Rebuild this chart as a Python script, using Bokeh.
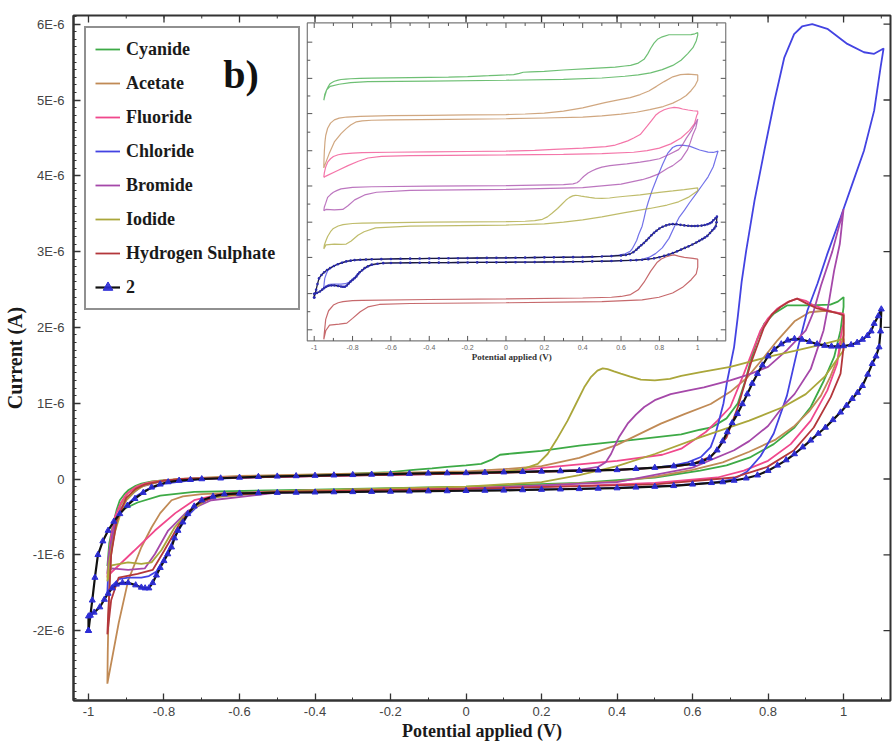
from bokeh.plotting import figure
from bokeh.models import Range1d, FixedTicker, CustomJSTickFormatter
from bokeh.core.properties import value
from bokeh.embed import file_html
from bokeh.resources import INLINE

# ---------------- data : potential (V) and current (units of 1E-6 A) ----------------
cyanide_v = [-0.95, -0.945, -0.935, -0.925, -0.917, -0.905, -0.895, -0.875, -0.86, -0.835,
             -0.81, -0.76, -0.7, -0.6, -0.5, -0.4, -0.3, -0.2, -0.14, -0.09,
             -0.05, 0.0, 0.04, 0.07, 0.09, 0.13, 0.2, 0.3, 0.43, 0.57,
             0.62, 0.65, 0.69, 0.72, 0.74, 0.755, 0.772, 0.79, 0.815, 0.85,
             0.91, 0.965, 0.985, 1.0,
             1.0, 0.992, 0.975, 0.948, 0.913, 0.87, 0.815, 0.754, 0.69, 0.62,
             0.5, 0.3, 0.0, -0.4, -0.72, -0.81, -0.87, -0.917, -0.935, -0.945, -0.95]
cyanide_i = [-1.15, -0.95, -0.6, -0.4, -0.28, -0.2, -0.15, -0.09, -0.06, -0.035,
             -0.02, -0.005, 0.01, 0.025, 0.04, 0.055, 0.07, 0.09, 0.12, 0.14,
             0.16, 0.18, 0.2, 0.26, 0.32, 0.34, 0.37, 0.44, 0.51, 0.59,
             0.65, 0.68, 0.8, 1.0, 1.3, 1.58, 1.85, 2.05, 2.18, 2.29,
             2.29, 2.3, 2.34, 2.4,
             2.27, 1.96, 1.61, 1.30, 0.95, 0.68, 0.46, 0.29, 0.18, 0.11,
             0.02, -0.05, -0.1, -0.14, -0.17, -0.22, -0.31, -0.42, -0.6, -0.85, -1.15]

acetate_v = [-0.95, -0.949, -0.947, -0.944, -0.94, -0.93, -0.915, -0.895, -0.87, -0.83,
             -0.76, -0.6, -0.4, -0.2, 0.0, 0.1, 0.2, 0.3, 0.4, 0.516,
             0.58, 0.648, 0.7, 0.745, 0.785, 0.825, 0.87, 0.91, 0.95, 1.0,
             1.0, 0.985, 0.965, 0.94, 0.91, 0.87, 0.82, 0.75, 0.68, 0.6,
             0.5, 0.4, 0.2, 0.0, -0.3, -0.6, -0.7, -0.75, -0.78, -0.81,
             -0.833, -0.86, -0.895, -0.92, -0.95]
acetate_i = [-2.7, -2.3, -1.8, -1.35, -1.0, -0.62, -0.35, -0.18, -0.09, -0.03,
             0.0, 0.04, 0.06, 0.08, 0.1, 0.13, 0.17, 0.28, 0.45, 0.73,
             0.86, 0.99, 1.15, 1.34, 1.58, 1.83, 2.08, 2.2, 2.22, 2.18,
             1.9, 1.6, 1.35, 1.1, 0.9, 0.7, 0.52, 0.36, 0.22, 0.12,
             0.03, -0.03, -0.08, -0.12, -0.15, -0.18, -0.2, -0.23, -0.28, -0.45,
             -0.64, -0.9, -1.34, -1.9, -2.7]

fluoride_v = [-0.95, -0.947, -0.94, -0.93, -0.915, -0.9, -0.875, -0.85, -0.8, -0.75,
              -0.6, -0.4, -0.2, 0.0, 0.15, 0.25, 0.4, 0.52, 0.57, 0.6,
              0.635, 0.666, 0.7, 0.736, 0.76, 0.78, 0.8, 0.825, 0.85, 0.877,
              0.9, 0.921, 0.95, 0.975, 1.0,
              1.0, 0.995, 0.983, 0.957, 0.913, 0.86, 0.8, 0.736, 0.666, 0.5,
              0.3, 0.0, -0.3, -0.5, -0.65, -0.72, -0.77, -0.824, -0.88, -0.939, -0.95]
fluoride_i = [-1.3, -1.05, -0.75, -0.5, -0.32, -0.2, -0.11, -0.06, -0.02, 0.0,
              0.02, 0.04, 0.06, 0.08, 0.12, 0.17, 0.24, 0.32, 0.4, 0.5,
              0.62, 0.77, 0.95, 1.39, 1.7, 1.96, 2.12, 2.25, 2.33, 2.38,
              2.35, 2.29, 2.24, 2.2, 2.18,
              2.05, 1.96, 1.52, 1.17, 0.77, 0.46, 0.24, 0.11, 0.02, -0.05,
              -0.09, -0.12, -0.14, -0.16, -0.2, -0.28, -0.45, -0.68, -0.95, -1.23, -1.3]

chloride_v = [-0.95, -0.948, -0.945, -0.938, -0.93, -0.915, -0.9, -0.875, -0.85, -0.8,
              -0.7, -0.5, -0.3, 0.0, 0.2, 0.4, 0.5, 0.55, 0.587, 0.622,
              0.648, 0.66, 0.67, 0.682, 0.692, 0.71, 0.72, 0.73, 0.742, 0.764,
              0.79, 0.817, 0.843, 0.869, 0.89, 0.917, 0.957, 1.01, 1.054, 1.081,
              1.106,
              1.098, 1.081, 1.054, 1.023, 0.992, 0.957, 0.931, 0.904, 0.88, 0.85,
              0.815, 0.78, 0.745, 0.71, 0.65, 0.5, 0.3, 0.0, -0.3, -0.5,
              -0.65, -0.7, -0.74, -0.77, -0.8, -0.82, -0.84, -0.86, -0.895, -0.92,
              -0.94, -0.95]
chloride_i = [-1.5, -1.25, -1.0, -0.8, -0.6, -0.45, -0.35, -0.23, -0.15, -0.06,
              0.0, 0.03, 0.05, 0.08, 0.1, 0.12, 0.15, 0.18, 0.22, 0.29,
              0.42, 0.58, 0.77, 1.0, 1.3, 1.74, 2.15, 2.6, 3.01, 3.67,
              4.33, 4.99, 5.56, 5.87, 5.97, 6.0, 5.94, 5.74, 5.63, 5.61,
              5.68,
              5.43, 4.86, 4.33, 3.89, 3.45, 2.97, 2.58, 2.22, 1.75, 1.1,
              0.6, 0.3, 0.1, 0.0, -0.05, -0.1, -0.13, -0.15, -0.17, -0.18,
              -0.22, -0.3, -0.5, -0.75, -1.05, -1.22, -1.28, -1.3, -1.3, -1.32,
              -1.42, -1.5]

bromide_v = [-0.95, -0.947, -0.94, -0.93, -0.915, -0.9, -0.88, -0.86, -0.8, -0.7,
             -0.4, 0.0, 0.3, 0.35, 0.37, 0.384, 0.395, 0.405, 0.428, 0.45,
             0.472, 0.5, 0.542, 0.59, 0.63, 0.7, 0.75, 0.8, 0.85, 0.9,
             0.92, 0.94, 0.97, 1.0,
             0.99, 0.975, 0.96, 0.947, 0.913, 0.87, 0.843, 0.8, 0.75, 0.71,
             0.6, 0.4, 0.0, -0.5, -0.675, -0.737, -0.789, -0.824, -0.851, -0.895,
             -0.939, -0.95]
bromide_i = [-1.25, -1.05, -0.85, -0.55, -0.4, -0.28, -0.18, -0.1, -0.02, 0.01,
             0.04, 0.07, 0.12, 0.16, 0.22, 0.33, 0.45, 0.55, 0.73, 0.85,
             0.95, 1.04, 1.12, 1.17, 1.21, 1.3, 1.38, 1.48, 1.7, 1.96,
             2.2, 2.55, 3.0, 3.56,
             3.1, 2.75, 2.3, 1.96, 1.45, 1.12, 0.98, 0.7, 0.5, 0.38,
             0.15, -0.04, -0.13, -0.18, -0.28, -0.42, -0.68, -0.99, -1.18, -1.2,
             -1.18, -1.25]

iodide_v = [-0.95, -0.947, -0.94, -0.93, -0.915, -0.9, -0.875, -0.85, -0.8, -0.75,
            -0.4, 0.0, 0.1, 0.15, 0.19, 0.216, 0.24, 0.269, 0.29, 0.313,
            0.33, 0.348, 0.362, 0.375, 0.392, 0.41, 0.435, 0.463, 0.5, 0.54,
            0.57, 0.622, 0.7, 0.8, 0.87, 0.93, 1.0,
            1.0, 0.95, 0.9, 0.84, 0.75, 0.62, 0.5, 0.4, 0.3, 0.2,
            0.0, -0.5, -0.68, -0.74, -0.772, -0.807, -0.833, -0.86, -0.895, -0.939, -0.95]
iodide_i = [-1.35, -1.15, -0.95, -0.7, -0.45, -0.28, -0.15, -0.08, -0.02, 0.0,
            0.05, 0.08, 0.1, 0.13, 0.2, 0.33, 0.52, 0.77, 0.98, 1.21,
            1.34, 1.43, 1.46, 1.45, 1.42, 1.39, 1.35, 1.31, 1.3, 1.32,
            1.36, 1.41, 1.48, 1.61, 1.69, 1.76, 1.85,
            1.7, 1.35, 1.12, 0.95, 0.77, 0.55, 0.33, 0.17, 0.05, -0.04,
            -0.1, -0.16, -0.25, -0.45, -0.64, -0.94, -1.1, -1.12, -1.1, -1.14, -1.35]

hsulphate_v = [-0.95, -0.948, -0.945, -0.94, -0.925, -0.9, -0.875, -0.85, -0.8, -0.75,
               -0.4, 0.0, 0.4, 0.55, 0.6, 0.65, 0.69, 0.72, 0.754, 0.789,
               0.81, 0.833, 0.855, 0.877, 0.9, 0.93, 0.975, 1.0,
               1.0, 1.0, 0.992, 0.966, 0.921, 0.869, 0.798, 0.71, 0.5, 0.0,
               -0.5, -0.66, -0.72, -0.76, -0.8, -0.83, -0.87, -0.92, -0.94, -0.95]
hsulphate_i = [-2.05, -1.8, -1.5, -1.0, -0.55, -0.25, -0.13, -0.07, -0.02, 0.0,
               0.04, 0.07, 0.12, 0.16, 0.2, 0.3, 0.55, 0.95, 1.52, 2.0,
               2.17, 2.27, 2.34, 2.38, 2.32, 2.25, 2.2, 2.16,
               2.0, 1.74, 1.39, 1.08, 0.68, 0.38, 0.16, 0.02, -0.07, -0.13,
               -0.17, -0.22, -0.35, -0.6, -0.95, -1.2, -1.25, -1.3, -1.6, -2.05]

compound2_v = [-1.0, -0.995, -0.99, -0.983, -0.975, -0.962, -0.948, -0.933, -0.917, -0.897,
               -0.877, -0.855, -0.833, -0.81, -0.789, -0.76, -0.73, -0.7, -0.65, -0.6,
               -0.55, -0.5, -0.45, -0.4, -0.35, -0.3, -0.25, -0.2, -0.15, -0.1,
               -0.05, 0.0, 0.05, 0.1, 0.15, 0.2, 0.25, 0.3, 0.35, 0.4,
               0.45, 0.5, 0.55, 0.6, 0.625, 0.645, 0.665, 0.68, 0.692, 0.705,
               0.719, 0.732, 0.745, 0.758, 0.772, 0.785, 0.8, 0.817, 0.835, 0.852,
               0.87, 0.89, 0.91, 0.93, 0.95, 0.968, 0.985, 1.0, 1.02, 1.036,
               1.05, 1.063, 1.073, 1.081, 1.092, 1.1,
               1.098, 1.094, 1.086, 1.076, 1.064, 1.05, 1.037, 1.023, 1.008, 0.992,
               0.972, 0.952, 0.933, 0.913, 0.892, 0.87, 0.848, 0.825, 0.8, 0.772,
               0.742, 0.71, 0.68, 0.65, 0.6, 0.55, 0.5, 0.45, 0.4, 0.35,
               0.3, 0.25, 0.2, 0.15, 0.1, 0.05, 0.0, -0.05, -0.1, -0.15,
               -0.2, -0.25, -0.3, -0.35, -0.4, -0.45, -0.5, -0.55, -0.6, -0.64,
               -0.67, -0.7, -0.72, -0.737, -0.75, -0.763, -0.772, -0.78, -0.79, -0.8,
               -0.81, -0.82, -0.83, -0.84, -0.85, -0.86, -0.875, -0.895, -0.91, -0.926,
               -0.937, -0.948, -0.958, -0.97, -0.985, -1.0, -1.0]
compound2_i = [-2.0, -1.8, -1.6, -1.3, -1.0, -0.82, -0.68, -0.56, -0.46, -0.35,
               -0.26, -0.18, -0.11, -0.07, -0.04, -0.02, -0.01, 0.0, 0.01, 0.02,
               0.03, 0.035, 0.04, 0.045, 0.05, 0.055, 0.06, 0.065, 0.07, 0.075,
               0.078, 0.08, 0.085, 0.09, 0.095, 0.1, 0.105, 0.11, 0.115, 0.12,
               0.135, 0.15, 0.17, 0.2, 0.23, 0.28, 0.38, 0.5, 0.62, 0.74,
               0.86, 0.99, 1.12, 1.26, 1.39, 1.5, 1.62, 1.71, 1.78, 1.83,
               1.85, 1.84, 1.81, 1.78, 1.76, 1.75, 1.75, 1.755, 1.77, 1.8,
               1.84, 1.89, 1.95, 2.05, 2.15, 2.24,
               1.95, 1.74, 1.62, 1.52, 1.38, 1.23, 1.14, 1.06, 0.97, 0.88,
               0.78, 0.68, 0.6, 0.51, 0.42, 0.33, 0.25, 0.18, 0.11, 0.05,
               0.01, -0.02, -0.04, -0.05, -0.07, -0.09, -0.1, -0.11, -0.12, -0.125,
               -0.13, -0.135, -0.14, -0.145, -0.15, -0.152, -0.155, -0.158, -0.16, -0.162,
               -0.165, -0.167, -0.17, -0.172, -0.175, -0.178, -0.18, -0.185, -0.19, -0.2,
               -0.23, -0.28, -0.36, -0.46, -0.57, -0.68, -0.78, -0.9, -0.99, -1.08,
               -1.17, -1.27, -1.37, -1.44, -1.44, -1.43, -1.4, -1.37, -1.37, -1.39,
               -1.44, -1.51, -1.59, -1.69, -1.76, -1.81, -2.0]

series_names = ["Cyanide", "Acetate", "Fluoride", "Chloride", "Bromide", "Iodide",
                "Hydrogen Sulphate", "2"]
series_v = [cyanide_v, acetate_v, fluoride_v, chloride_v, bromide_v, iodide_v,
            hsulphate_v, compound2_v]
series_i = [cyanide_i, acetate_i, fluoride_i, chloride_i, bromide_i, iodide_i,
            hsulphate_i, compound2_i]
# vertical stacking of the curves in the inset (same units)
inset_offsets = [10.3, 8.3, 6.4, 0.8, 4.6, 2.7, -1.35, 0.8]

x_major = [-1.0, -0.8, -0.6, -0.4, -0.2, 0.0, 0.2, 0.4, 0.6, 0.8, 1.0]
x_minor = [round(-1.0 + 0.1 * k, 1) for k in range(22)]
y_major = [-2, -1, 0, 1, 2, 3, 4, 5, 6]
y_minor = [round(-2.9 + 0.1 * k, 1) for k in range(91)]
inset_x_minor = [round(-0.9 + 0.2 * k, 1) for k in range(11)]
inset_y_major = [12.2, 10.3, 8.45, 6.5, 4.65, 2.75, 0.9, -1.0, -2.9]
inset_x_labels = ["-1", "-0.8", "-0.6", "-0.4", "-0.2", "0", "0.2", "0.4", "0.6", "0.8", "1"]

colors = ["#3daa46", "#c08a55", "#f0488c", "#4343e2", "#a548a9", "#aaa63a", "#b3373b", "#111111"]
marker_color = "#2b2bd6"

SERIF = value("Liberation Serif")
SANS = "Liberation Sans"

# ---------------- figure ----------------
X0, X1 = -1.0397, 1.1243
Y0, Y1 = -2.922, 6.115
p = figure(width=892, height=747, x_range=Range1d(X0, X1), y_range=Range1d(Y0, Y1),
           output_backend="svg", toolbar_location=None,
           min_border_left=72, min_border_right=2, min_border_top=15, min_border_bottom=47)
p.extra_x_ranges = {"ix": Range1d(-2.2552, 2.0052)}
p.extra_y_ranges = {"iy": Range1d(-22.36, 13.60)}
p.xgrid.visible = False
p.ygrid.visible = False
p.outline_line_color = "#333333"
p.outline_line_width = 2
p.background_fill_color = "white"
p.border_fill_color = "white"

axis_col = "#333333"
xfmt = CustomJSTickFormatter(code="""
var s = tick.toFixed(1);
if (s.slice(-2) == '.0') { s = s.slice(0, -2); }
if (s == '-0') { s = '0'; }
return s;""")
yfmt = CustomJSTickFormatter(code="""
var n = Math.round(tick);
return n == 0 ? '0' : n + 'E-6';""")


def style_axis(ax):
    ax.axis_line_width = 2
    ax.axis_line_color = axis_col
    ax.major_tick_line_color = axis_col
    ax.minor_tick_line_color = axis_col
    ax.major_tick_line_width = 1.3
    ax.major_tick_in = 7
    ax.major_tick_out = 0
    ax.minor_tick_in = 3
    ax.minor_tick_out = 0
    ax.major_label_text_font = SANS
    ax.major_label_text_font_size = "13px"
    ax.major_label_text_color = "#444444"


xa = p.xaxis[0]
xa.ticker = FixedTicker(ticks=x_major, minor_ticks=x_minor)
xa.formatter = xfmt
style_axis(xa)
xa.major_label_standoff = 6
xa.axis_label = "Potential applied (V)"
xa.axis_label_text_font = "Liberation Serif"
xa.axis_label_text_font_style = "bold"
xa.axis_label_text_font_size = "18px"
xa.axis_label_text_color = "#1a1a1a"
xa.axis_label_standoff = 2

ya = p.yaxis[0]
ya.ticker = FixedTicker(ticks=y_major, minor_ticks=y_minor)
ya.formatter = yfmt
style_axis(ya)
ya.major_label_standoff = 9
ya.axis_label = "Current (A)"
ya.axis_label_text_font = "Liberation Serif"
ya.axis_label_text_font_style = "bold"
ya.axis_label_text_font_size = "20px"
ya.axis_label_text_color = "#1a1a1a"
ya.axis_label_standoff = 4

# tick marks on the top and right edges of the frame (inward)
tk_major_y = 7 / 75.8   # 7 px in current units
tk_minor_y = 3 / 75.8
tk_major_x = 7 / 378.0  # 7 px in volts
p.segment(x0=x_major, y0=[Y1] * len(x_major), x1=x_major, y1=[Y1 - tk_major_y] * len(x_major),
          line_color=axis_col, line_width=1.3)
p.segment(x0=x_minor, y0=[Y1] * len(x_minor), x1=x_minor, y1=[Y1 - tk_minor_y] * len(x_minor),
          line_color=axis_col, line_width=1)
p.segment(x0=[X1] * len(y_major), y0=y_major, x1=[X1 - tk_major_x] * len(y_major), y1=y_major,
          line_color=axis_col, line_width=1.3)

# panel tag (inside the legend box area; legend background is transparent)
p.text(x=[-0.643], y=[5.64], text=["b)"], text_font=SERIF, text_font_style="bold",
       text_font_size="40px", text_baseline="top", text_color="#111111")

# ---------------- main curves ----------------
for name, v, i, c in zip(series_names, series_v, series_i, colors):
    if name == "2":
        p.line(v, i, line_color=c, line_width=2.2, legend_label=name)
        p.scatter(v, i, marker="triangle", size=6, fill_color=marker_color,
                  line_color=marker_color, fill_alpha=0.9, legend_label=name)
    else:
        p.line(v, i, line_color=c, line_width=1.8, legend_label=name)

# ---------------- inset (drawn on its own scales) ----------------
ib_l, ib_r, ib_b, ib_t = -1.036, 1.146, -3.485, 13.208
px_x = 1.0 / 192.0   # one pixel in inset x units
px_y = 1.0 / 19.05   # one pixel in inset y units
IR = dict(x_range_name="ix", y_range_name="iy")

p.quad(left=[ib_l], right=[ib_r], bottom=[ib_b], top=[ib_t], fill_color="white",
       line_color="#7a7a7a", line_width=1.2, **IR)

for name, v, i, c, off in zip(series_names, series_v, series_i, colors, inset_offsets):
    iy = [val + off for val in i]
    if name == "2":
        p.line(v, iy, line_color="#1a1a3a", line_width=1.3, **IR)
        p.scatter(v, iy, marker="circle", size=2.6, fill_color="#2b2bb0",
                  line_color=None, **IR)
    else:
        p.line(v, iy, line_color=c, line_width=1.2, line_alpha=0.75, **IR)

tick_col = "#555555"
p.segment(x0=x_major, y0=[ib_b] * len(x_major), x1=x_major,
          y1=[ib_b + 5 * px_y] * len(x_major), line_color=tick_col, line_width=1, **IR)
p.segment(x0=inset_x_minor, y0=[ib_b] * len(inset_x_minor), x1=inset_x_minor,
          y1=[ib_b + 3 * px_y] * len(inset_x_minor), line_color=tick_col, line_width=1, **IR)
p.segment(x0=x_major, y0=[ib_t] * len(x_major), x1=x_major,
          y1=[ib_t - 5 * px_y] * len(x_major), line_color=tick_col, line_width=1, **IR)
p.segment(x0=inset_x_minor, y0=[ib_t] * len(inset_x_minor), x1=inset_x_minor,
          y1=[ib_t - 3 * px_y] * len(inset_x_minor), line_color=tick_col, line_width=1, **IR)
inset_y_minor = [(a + b) / 2 for a, b in zip(inset_y_major[:-1], inset_y_major[1:])]
p.segment(x0=[ib_l] * len(inset_y_major), y0=inset_y_major, x1=[ib_l + 5 * px_x] * len(inset_y_major),
          y1=inset_y_major, line_color=tick_col, line_width=1, **IR)
p.segment(x0=[ib_l] * len(inset_y_minor), y0=inset_y_minor, x1=[ib_l + 3 * px_x] * len(inset_y_minor),
          y1=inset_y_minor, line_color=tick_col, line_width=1, **IR)
p.segment(x0=[ib_r] * len(inset_y_major), y0=inset_y_major, x1=[ib_r - 5 * px_x] * len(inset_y_major),
          y1=inset_y_major, line_color=tick_col, line_width=1, **IR)
p.segment(x0=[ib_r] * len(inset_y_minor), y0=inset_y_minor, x1=[ib_r - 3 * px_x] * len(inset_y_minor),
          y1=inset_y_minor, line_color=tick_col, line_width=1, **IR)

p.text(x=x_major, y=[ib_b - 6.5 * px_y] * len(x_major), text=inset_x_labels,
       text_font=value(SANS), text_font_size="7px", text_color="#666666",
       text_align="center", text_baseline="middle", **IR)
p.text(x=[0.03], y=[ib_b - 16.5 * px_y], text=["Potential applied (V)"],
       text_font=SERIF, text_font_style="bold", text_font_size="9px", text_color="#333333",
       text_align="center", text_baseline="middle", **IR)

# ---------------- legend ----------------
lg = p.legend[0]
lg.location = (11, 390)
lg.margin = 0
lg.padding = 9
lg.spacing = 10
lg.glyph_height = 24
lg.glyph_width = 25
lg.label_height = 24
lg.label_width = 163
lg.label_standoff = 6
lg.label_text_font = "Liberation Serif"
lg.label_text_font_style = "bold"
lg.label_text_font_size = "18px"
lg.label_text_color = "#1a1a1a"
lg.border_line_color = "#222222"
lg.border_line_width = 2
lg.background_fill_alpha = 0.0

open("out.html", "w").write(file_html(p, INLINE))
